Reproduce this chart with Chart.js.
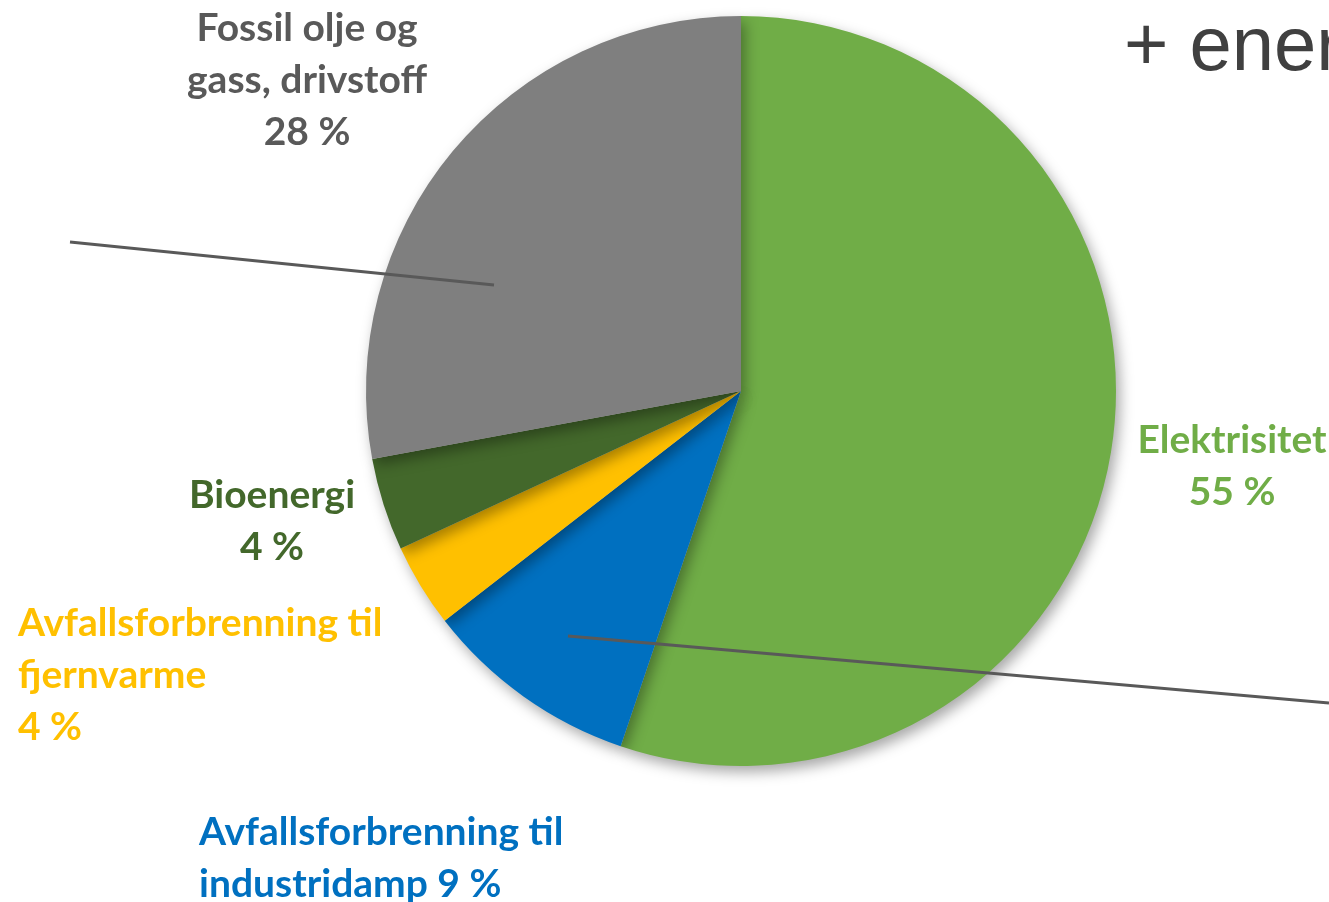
<!DOCTYPE html>
<html>
<head>
<meta charset="utf-8">
<script src="https://cdn.jsdelivr.net/npm/chart.js@4/dist/chart.umd.min.js"></script>
<style>
  html, body { margin: 0; padding: 0; background: #fff; }
  #wrap { position: relative; width: 1329px; height: 902px; }
</style>
</head>
<body>
<div id="wrap"><canvas id="energi" width="1329" height="902"></canvas></div>
<script>
// data (share of energy use, %)
var categories = ['Elektrisitet', 'Avfallsforbrenning til industridamp', 'Avfallsforbrenning til fjernvarme', 'Bioenergi', 'Fossil olje og gass, drivstoff'];
var shares = [55.2, 9.3, 3.6, 4.0, 27.9];
var sliceColors = ['#70AD47', '#0070C0', '#FFC000', '#43682B', '#7F7F7F'];
var textColors = ['#70AD47', '#0070C0', '#FFC000', '#43682B', '#595959'];

// label placement (words per line, anchor, alignment)
var labelLayout = [
  {words: [1], pctInline: false, x: 1232, y: 440, align: 'center'},
  {words: [2, 1], pctInline: true, x: 199, y: 832, align: 'left'},
  {words: [2, 1], pctInline: false, x: 18, y: 623, align: 'left'},
  {words: [1], pctInline: false, x: 272, y: 495, align: 'center'},
  {words: [3, 2], pctInline: false, x: 307, y: 28, align: 'center'}
];

function labelLines(i) {
  var w = categories[i].split(' ');
  var lay = labelLayout[i];
  var lines = [], k = 0;
  lay.words.forEach(function(n) { lines.push(w.slice(k, k + n).join(' ')); k += n; });
  var pct = Math.round(shares[i]) + ' %';
  if (lay.pctInline) lines[lines.length - 1] += ' ' + pct;
  else lines.push(pct);
  return lines;
}

// soft drop shadow under the pie
var shadowPlugin = {
  id: 'shadow',
  beforeDatasetsDraw: function(chart) {
    var ctx = chart.ctx;
    ctx.save();
    ctx.shadowColor = 'rgba(0,0,0,0.35)';
    ctx.shadowBlur = 14;
    ctx.shadowOffsetX = 4;
    ctx.shadowOffsetY = 6;
  },
  afterDatasetsDraw: function(chart) {
    chart.ctx.restore();
  }
};

// labels, leader lines and the slide title fragment
var overlayPlugin = {
  id: 'overlay',
  afterDraw: function(chart) {
    var ctx = chart.ctx;
    ctx.save();
    ctx.strokeStyle = '#595959';
    ctx.lineWidth = 3;
    ctx.beginPath();
    ctx.moveTo(70, 242); ctx.lineTo(494, 285);
    ctx.moveTo(568, 636); ctx.lineTo(1329, 703);
    ctx.stroke();

    ctx.font = 'bold 39px Lato';
    ctx.textBaseline = 'middle';
    for (var i = 0; i < categories.length; i++) {
      var lay = labelLayout[i];
      ctx.fillStyle = textColors[i];
      ctx.textAlign = lay.align;
      labelLines(i).forEach(function(t, j) {
        ctx.fillText(t, lay.x, lay.y + j * 52);
      });
    }

    ctx.fillStyle = '#404040';
    ctx.font = '76px "Liberation Sans"';
    ctx.textBaseline = 'alphabetic';
    ctx.textAlign = 'left';
    ctx.fillText('+ ener', 1124, 70);
    ctx.restore();
  }
};

Chart.defaults.font.family = 'Lato';
new Chart('energi', {
  type: 'pie',
  data: {
    labels: categories,
    datasets: [{
      data: shares,
      backgroundColor: sliceColors,
      borderWidth: 0
    }]
  },
  options: {
    responsive: false,
    animation: false,
    layout: { padding: { left: 366, right: 213, top: 16, bottom: 136 } },
    plugins: { legend: { display: false }, tooltip: { enabled: false } }
  },
  plugins: [shadowPlugin, overlayPlugin]
});
</script>
</body>
</html>
